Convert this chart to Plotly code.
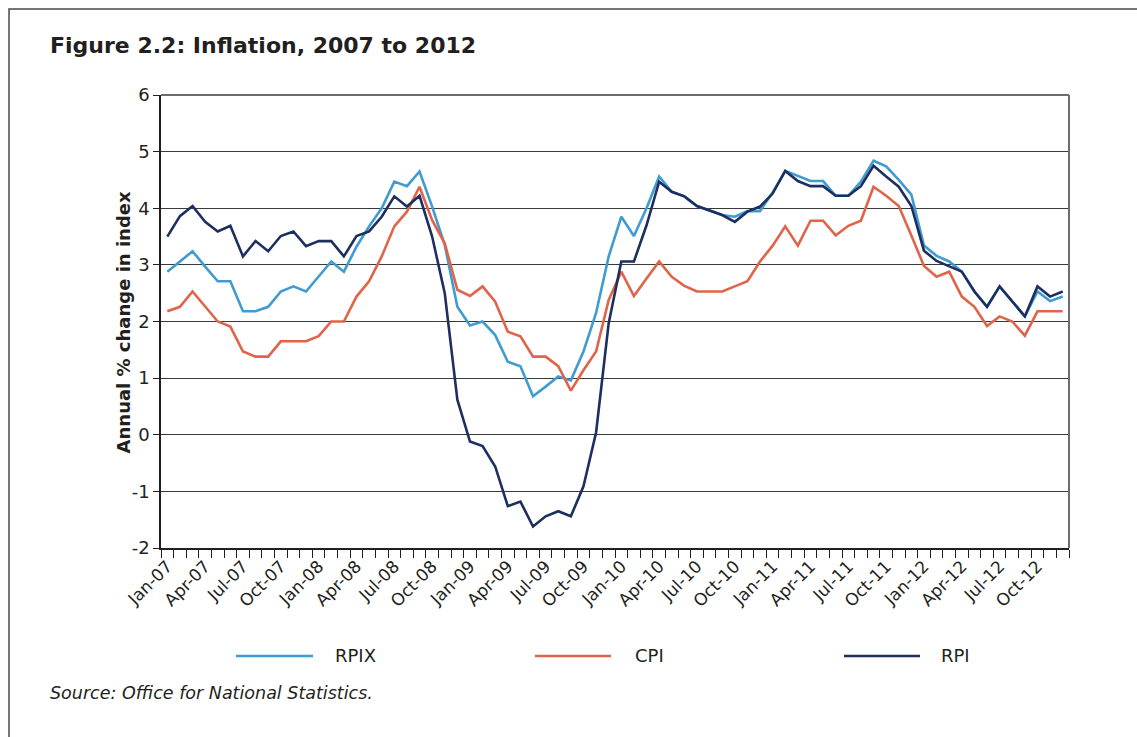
import plotly.graph_objects as go

# monthly categories, Jan-07 .. Dec-12
month_names = ["Jan", "Feb", "Mar", "Apr", "May", "Jun",
               "Jul", "Aug", "Sep", "Oct", "Nov", "Dec"]
years = ["07", "08", "09", "10", "11", "12"]
months = [f"{m}-{y}" for y in years for m in month_names]

y_ticks = list(range(-2, 7))

rpix = [2.88, 3.06, 3.24, 2.97, 2.71, 2.71, 2.18, 2.18, 2.26, 2.53, 2.62, 2.53,
        2.79, 3.06, 2.88, 3.32, 3.68, 4.00, 4.47, 4.39, 4.65, 4.03, 3.35, 2.26,
        1.93, 2.00, 1.76, 1.29, 1.21, 0.68, 0.85, 1.03, 0.96, 1.47, 2.15, 3.15,
        3.85, 3.51, 4.00, 4.56, 4.29, 4.21, 4.04, 3.96, 3.88, 3.85, 3.95, 3.95,
        4.28, 4.66, 4.57, 4.48, 4.48, 4.22, 4.22, 4.47, 4.84, 4.74, 4.50, 4.24,
        3.34, 3.16, 3.06, 2.88, 2.53, 2.26, 2.62, 2.35, 2.09, 2.53, 2.36, 2.44]

cpi = [2.18, 2.26, 2.53, 2.26, 2.00, 1.91, 1.47, 1.38, 1.38, 1.65, 1.65, 1.65,
       1.74, 2.00, 2.00, 2.44, 2.71, 3.15, 3.68, 3.94, 4.38, 3.79, 3.38, 2.56,
       2.45, 2.62, 2.35, 1.82, 1.74, 1.38, 1.38, 1.21, 0.78, 1.14, 1.47, 2.38,
       2.88, 2.45, 2.76, 3.06, 2.79, 2.63, 2.53, 2.53, 2.53, 2.62, 2.71, 3.06,
       3.34, 3.68, 3.34, 3.78, 3.78, 3.52, 3.69, 3.78, 4.38, 4.22, 4.04, 3.52,
       2.98, 2.79, 2.88, 2.44, 2.26, 1.92, 2.09, 2.00, 1.75, 2.18, 2.18, 2.18]

rpi = [3.50, 3.86, 4.04, 3.76, 3.59, 3.69, 3.15, 3.42, 3.24, 3.51, 3.59, 3.33,
       3.42, 3.42, 3.15, 3.51, 3.59, 3.85, 4.21, 4.03, 4.22, 3.50, 2.50, 0.62,
       -0.12, -0.20, -0.56, -1.26, -1.18, -1.62, -1.44, -1.35, -1.44, -0.91, 0.04, 1.97,
       3.06, 3.06, 3.70, 4.47, 4.29, 4.21, 4.04, 3.96, 3.88, 3.76, 3.94, 4.03,
       4.26, 4.66, 4.48, 4.39, 4.39, 4.22, 4.22, 4.39, 4.75, 4.56, 4.38, 4.04,
       3.25, 3.07, 2.98, 2.88, 2.53, 2.26, 2.62, 2.35, 2.09, 2.62, 2.44, 2.53]

series = [("RPIX", rpix, "#3f9bd0"),
          ("CPI", cpi, "#e0644a"),
          ("RPI", rpi, "#1c2f5e")]

FONT = "DejaVu Sans"
TXT = "#231f20"

x = list(range(len(months)))

fig = go.Figure()
for name, vals, col in series:
    fig.add_trace(go.Scatter(x=x, y=vals, name=name, mode="lines",
                             line=dict(color=col, width=2.6),
                             hovertext=months, showlegend=False))

fig.update_layout(
    width=1137, height=737,
    margin=dict(l=161, r=68, t=95, b=189),
    paper_bgcolor="white", plot_bgcolor="white",
    font=dict(family=FONT, color=TXT),
)

fig.update_xaxes(
    range=[-0.5, len(months) - 0.5],
    tickvals=x[::3], ticktext=months[::3],
    tickangle=-45, ticks="",
    tickfont=dict(size=17, color=TXT),
    showgrid=False, zeroline=False,
    showline=True, linecolor="#231f20", linewidth=1.5,
    minor=dict(tick0=-0.5, dtick=1, ticks="outside", ticklen=8,
               tickcolor="#231f20", tickwidth=1.2, showgrid=False),
)

# plain hyphen for negatives, as in the original
fig.update_yaxes(
    range=[-2, 6], tickvals=y_ticks, ticktext=[str(v) for v in y_ticks],
    ticks="outside", ticklen=6, tickcolor="#231f20",
    tickfont=dict(size=18, color=TXT),
    showgrid=True, gridcolor="#3a3a3a", gridwidth=1.2,
    zeroline=False,
    showline=True, linecolor="#231f20", linewidth=1.5,
)

# plot-area border on top and right
fig.add_shape(type="line", xref="paper", yref="paper", x0=0, x1=1, y0=1, y1=1,
              line=dict(color="#6d6d6d", width=2))
fig.add_shape(type="line", xref="paper", yref="paper", x0=1, x1=1, y0=0, y1=1,
              line=dict(color="#6d6d6d", width=2))

# outer frame of the figure box
fig.add_shape(type="rect", xref="paper", yref="paper",
              x0=-0.1674, x1=1.09, y0=-0.45, y1=1.1898,
              line=dict(color="#4a4a4a", width=1.5), layer="below")

fig.add_annotation(text="<b>Figure 2.2: Inflation, 2007 to 2012</b>",
                   xref="paper", yref="paper", x=-0.1244, y=1.110,
                   xanchor="left", yanchor="middle", showarrow=False,
                   font=dict(size=22, color=TXT))

fig.add_annotation(text="<b>Annual % change in index</b>",
                   xref="paper", yref="paper", x=-0.0551, y=0.499,
                   textangle=-90, showarrow=False,
                   font=dict(size=18, color=TXT))

# legend drawn by hand so the keys can be long like the original
leg_y = -0.2384
leg_pos = [(0.0826, 0.1674, 0.1894), (0.4119, 0.4956, 0.5198), (0.7522, 0.8359, 0.8568)]
for (name, vals, col), (lx0, lx1, tx) in zip(series, leg_pos):
    fig.add_shape(type="line", xref="paper", yref="paper",
                  x0=lx0, x1=lx1, y0=leg_y, y1=leg_y,
                  line=dict(color=col, width=2.6))
    fig.add_annotation(text=name, xref="paper", yref="paper", x=tx, y=leg_y,
                       xanchor="left", yanchor="middle", showarrow=False,
                       font=dict(size=18, color=TXT))

fig.add_annotation(text="<i>Source: Office for National Statistics.</i>",
                   xref="paper", yref="paper", x=-0.1244, y=-0.320,
                   xanchor="left", yanchor="middle", showarrow=False,
                   font=dict(size=17.5, color=TXT))

# browser default body margin would shift the figure by 8px
fig.write_html("out.html", config={"displayModeBar": False},
               post_script="document.body.style.margin='0px';")
